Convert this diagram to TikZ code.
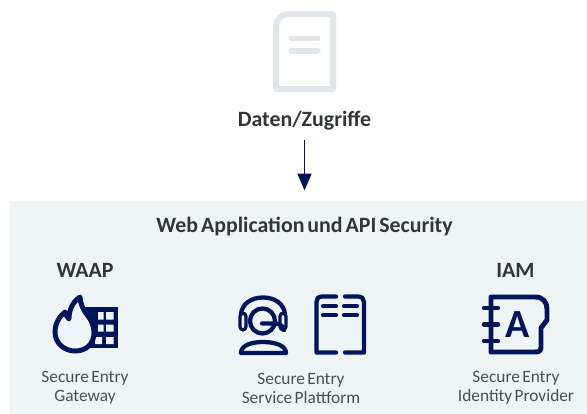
\documentclass[tikz,border=0pt]{standalone}
\usepackage{fontspec}
\setmainfont{Carlito}[WordSpace=0.6]
\usetikzlibrary{arrows.meta}
\definecolor{panelbg}{HTML}{EFF4F7}
\definecolor{navy}{HTML}{00145A}
\definecolor{docgray}{HTML}{E1E6EA}
\definecolor{txt}{HTML}{333638}
\definecolor{lbl}{HTML}{4A4F53}
\tikzset{
  headtext/.style={text=txt,font=\fontsize{16.4}{19}\selectfont\bfseries,inner sep=0pt},
  sublabel/.style={text=lbl,font=\fontsize{13}{14.3}\selectfont,align=center,inner sep=0pt},
  ico/.style={draw=navy,line width=3.7pt,line join=round,line cap=round},
  thin ico/.style={draw=navy,line width=3.2pt,line join=round,line cap=round},
  pad ico/.style={draw=navy,line width=2.4pt,line join=round,rounded corners=2.5pt},
}
\begin{document}
\begin{tikzpicture}[x=0.75pt,y=-0.75pt]
\useasboundingbox (0,0) rectangle (587,414);
\fill[white] (0,0) rectangle (587,414);
\node[fill=panelbg,inner sep=0pt,minimum width=432.75pt,minimum height=160pt,anchor=north west] (panel) at (10,201) {};
% document icon
\draw[draw=docgray,line width=4.5pt,line join=round] (276,28) .. controls (276,18) and (282,14) .. (292,14) -- (333,14) -- (333,89) -- (276,89) -- cycle;
\draw[docgray,line width=3.8pt,line cap=round] (291,38.5) -- (318,38.5);
\draw[docgray,line width=3.8pt,line cap=round] (291,51) -- (318,51);
\node[headtext] (daten) at (304.5,120.5) {Daten/Zugriffe};
\draw[navy,line width=1.1pt,-{Triangle[length=12.5pt,width=10.5pt]},shorten <=7pt,shorten >=8pt] (daten) -- (daten|-panel.north);
\node[headtext] (title) at (304.5,227) {Web Application und API Security};
\node[headtext] (waap) at (85,270) {WAAP};
\node[headtext] (iam) at (515.5,270) {IAM};
% firewall icon
\fill[navy] (85,307) rectangle (118,348);
\fill[panelbg] (98,312) rectangle (103.5,319.5) (106,312) rectangle (113.5,319.5)
  (98,324.5) rectangle (103.5,331.5) (106,324.5) rectangle (113.5,331.5)
  (95,337) rectangle (102,344) (106,337) rectangle (113.5,344);
\draw[ico,fill=panelbg] (80,297) .. controls (80,304) and (84,311) .. (88,316)
  .. controls (92,321) and (94,327) .. (94,333)
  .. controls (94,344) and (86,351) .. (75,351)
  .. controls (64,351) and (55,343) .. (55,332)
  .. controls (55,323) and (60,316) .. (65,312)
  .. controls (66,315) and (67,317) .. (69,319)
  .. controls (69,311) and (72,302) .. (80,297) -- cycle;
% headset icon
\draw[thin ico] (241,314) .. controls (242,304) and (251,297.5) .. (263,297.5) .. controls (275,297.5) and (284,304) .. (285,314);
\draw[thin ico] (262.5,321) circle[radius=12.5];
\draw[pad ico] (240,313) rectangle (246,330);
\draw[pad ico] (280,313) rectangle (286,330);
\draw[thin ico] (284,330) .. controls (283,325) and (279,323.5) .. (274,323.5) -- (262,323.5);
\draw[thin ico] (241,353) .. controls (241,346) and (250,342) .. (263,342) .. controls (276,342) and (286,346) .. (286,353) -- cycle;
% book icon
\draw[thin ico] (336,296.5) -- (322,296.5) .. controls (318,296.5) and (316.5,299) .. (316.5,302) -- (316.5,352.5) -- (336,352.5);
\draw[thin ico] (345,296.5) -- (358,296.5) .. controls (362,296.5) and (364,299) .. (364,302) -- (364,352.5) -- (345,352.5);
\draw[thin ico] (323,306) -- (336,306) (344,306) -- (357,306);
\draw[thin ico] (323,315) -- (336,315) (344,315) -- (357,315);
% contact book icon
\draw[ico] (491,297) -- (535,297) .. controls (543,297) and (547,302) .. (547,309) -- (547,320) -- (541,328) -- (541,347) .. controls (541,351) and (539,352) .. (535,352) -- (491,352) -- cycle;
\draw[thin ico] (484,308) -- (498,308) (484,324.5) -- (498,324.5) (484,341) -- (498,341);
\node[text=navy,inner sep=0pt,font=\fontsize{30}{32}\selectfont\bfseries] (lettera) at (518,325) {A};
% labels
\node[sublabel] (gw) at (85,388) {Secure Entry\\Gateway};
\node[sublabel] (sp) at (301,388) {Secure Entry\\Service Plattform};
\node[sublabel] (idp) at (516,388) {Secure Entry\\Identity Provider};
\end{tikzpicture}
\end{document}
